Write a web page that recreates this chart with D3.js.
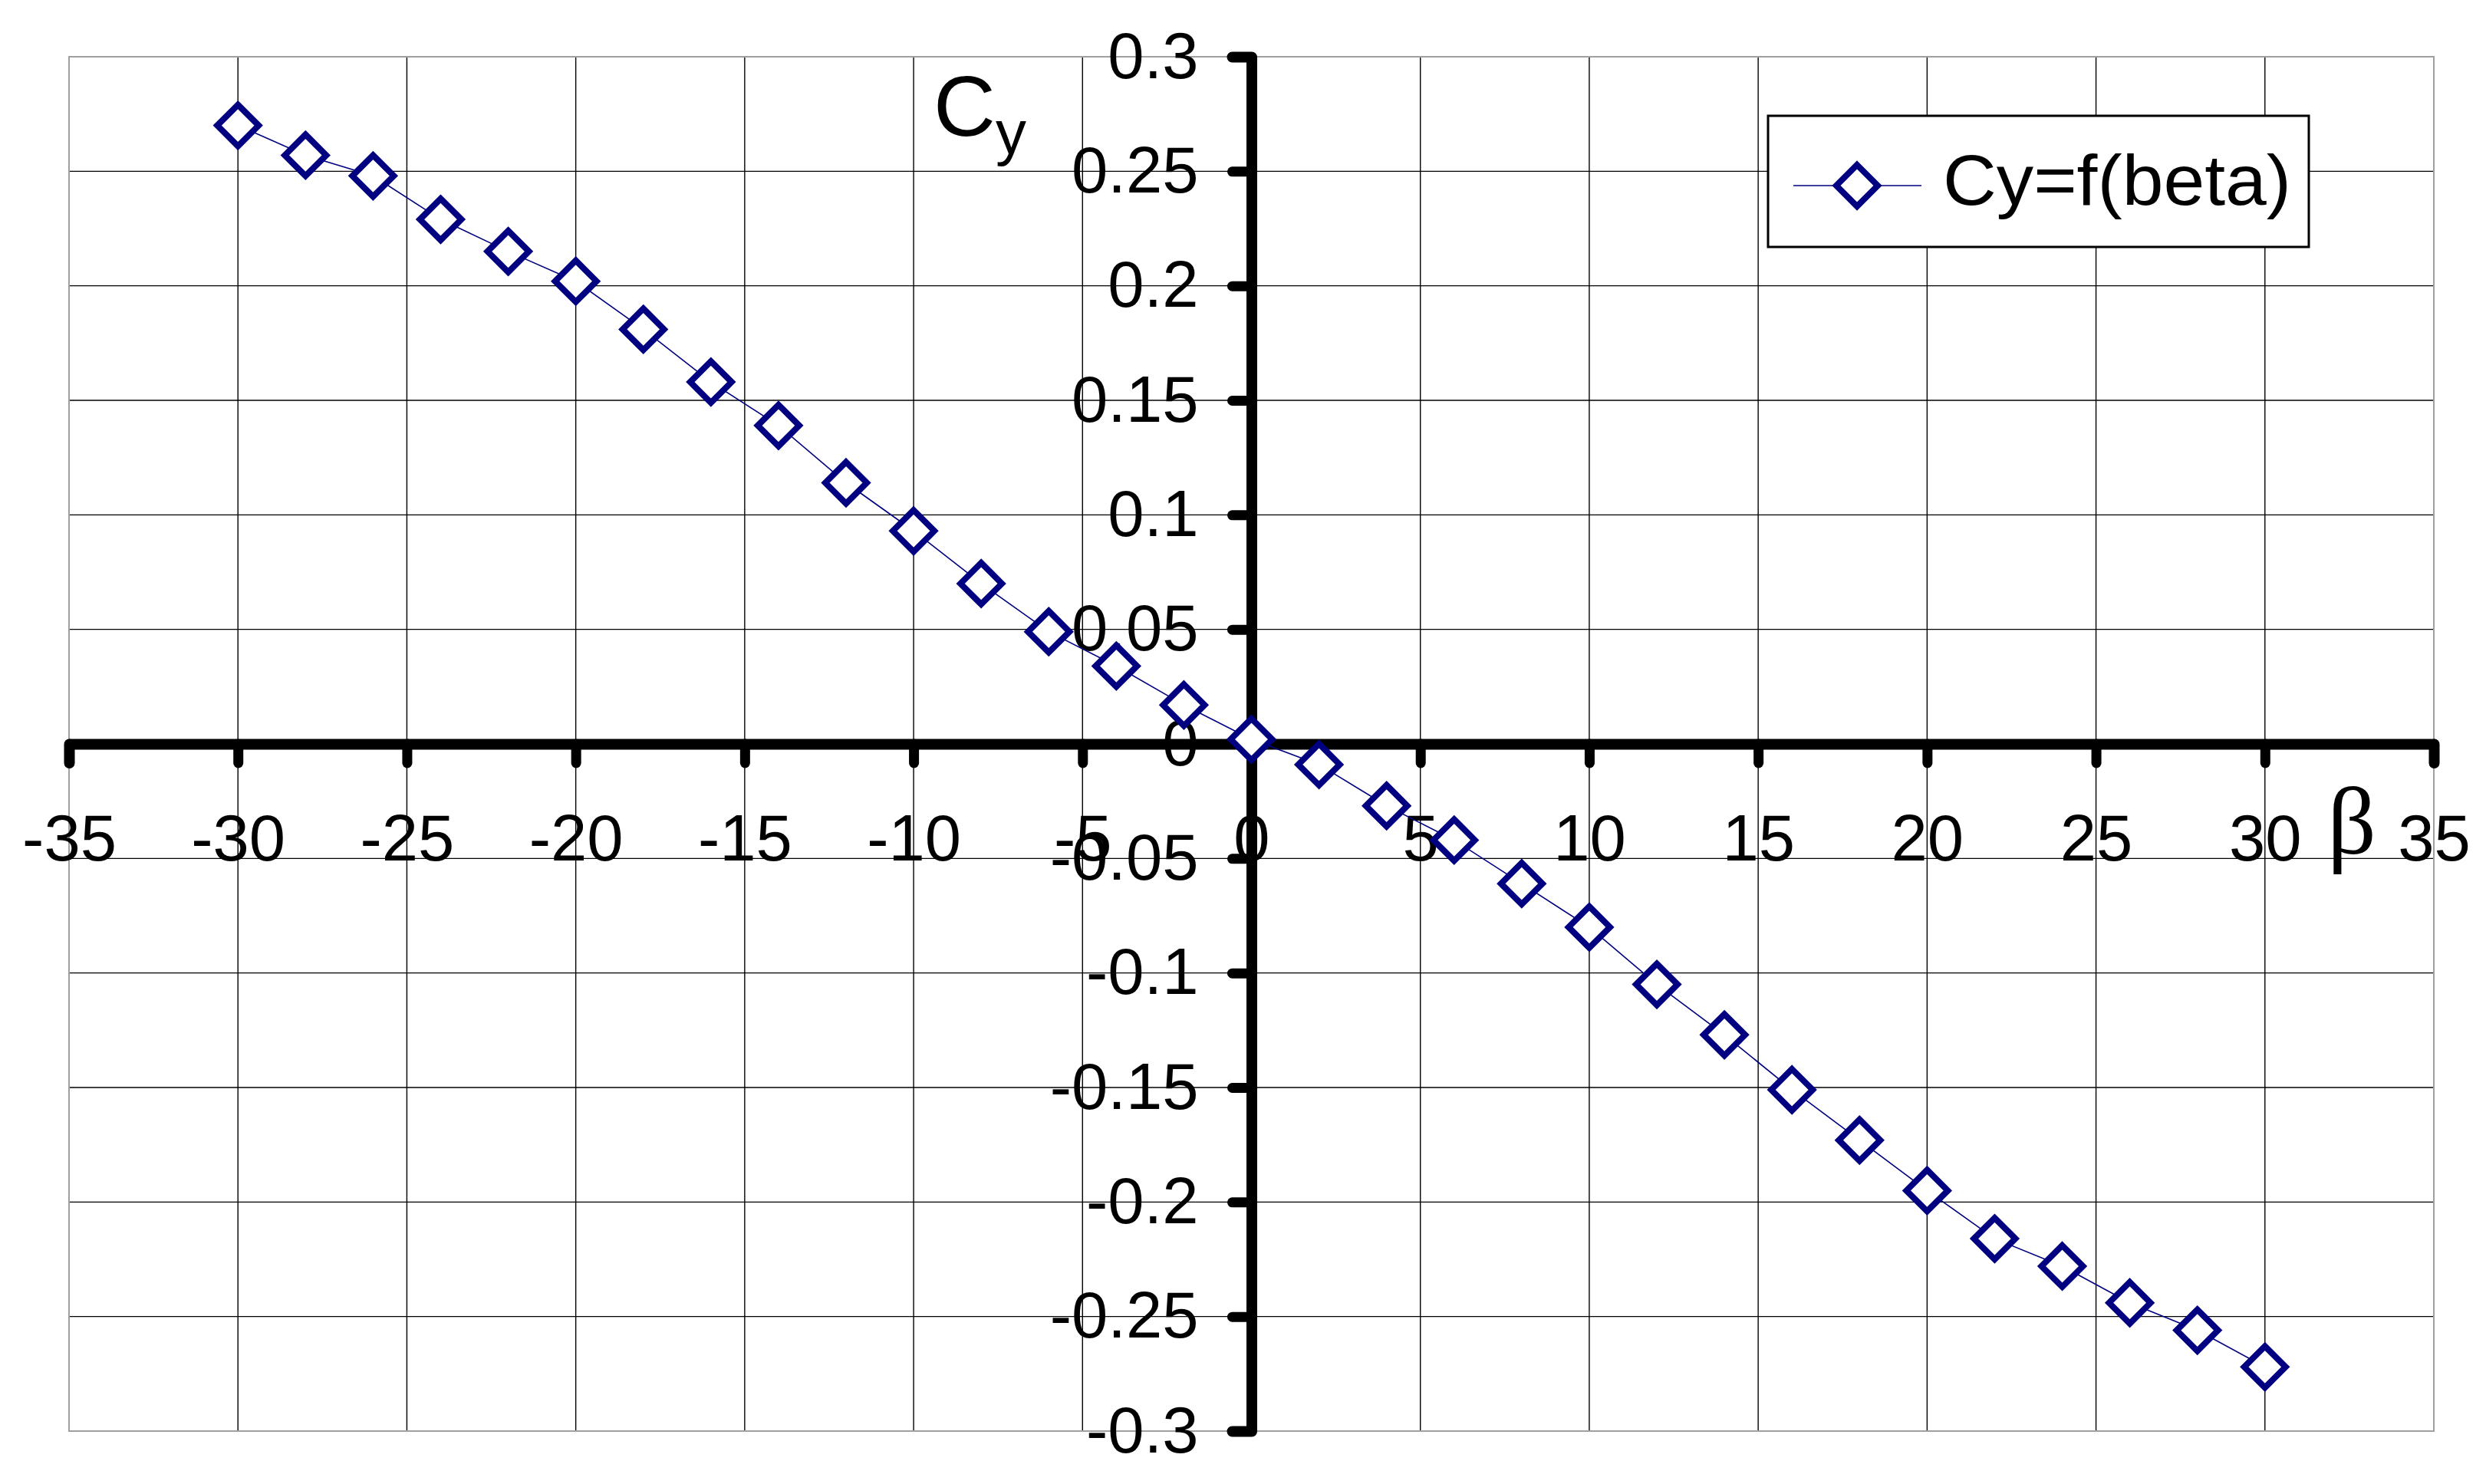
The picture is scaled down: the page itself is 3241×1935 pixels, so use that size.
<!DOCTYPE html>
<html>
<head>
<meta charset="utf-8">
<script src="https://cdn.jsdelivr.net/npm/d3@7"></script>
<style>
  body { margin: 0; background: #fff; }
</style>
</head>
<body>
<script>
// data
const betaValues = [-30, -28, -26, -24, -22, -20, -18, -16, -14, -12, -10, -8, -6, -4, -2,
  0, 2, 4, 6, 8, 10, 12, 14, 16, 18, 20, 22, 24, 26, 28, 30];
const cyValues = [0.270, 0.257, 0.248, 0.229, 0.215, 0.202, 0.181, 0.158, 0.139, 0.114, 0.093,
  0.070, 0.049, 0.034, 0.017, 0.002, -0.009, -0.027, -0.042, -0.061, -0.080, -0.105, -0.127,
  -0.151, -0.173, -0.195, -0.216, -0.228, -0.244, -0.256, -0.272];
const xTickValues = [-35, -30, -25, -20, -15, -10, -5, 0, 5, 10, 15, 20, 25, 30, 35];
const xTickLabels = ["-35", "-30", "-25", "-20", "-15", "-10", "-5", "0", "5", "10", "15", "20", "25", "30", "35"];
const yTickValues = [0.3, 0.25, 0.2, 0.15, 0.1, 0.05, 0, -0.05, -0.1, -0.15, -0.2, -0.25, -0.3];
const yTickLabels = ["0.3", "0.25", "0.2", "0.15", "0.1", "0.05", "0", "-0.05", "-0.1", "-0.15", "-0.2", "-0.25", "-0.3"];
const seriesName = "Cy=f(beta)";

const width = 3241;
const height = 1935;
const font = 'Liberation Sans, Arial, sans-serif';
const navy = '#000080';

const svg = d3.select('body').append('svg')
  .attr('width', width)
  .attr('height', height);

svg.append('rect').attr('width', width).attr('height', height).attr('fill', '#fff');

const x = d3.scaleLinear().domain([-35, 35]).range([90, 3173]);
const y = d3.scaleLinear().domain([-0.3, 0.3]).range([1866, 74]);

// grid
svg.append('g').selectAll('line')
  .data(xTickValues.slice(1, -1))
  .join('line')
  .attr('x1', d => x(d)).attr('x2', d => x(d))
  .attr('y1', y(0.3)).attr('y2', y(-0.3))
  .attr('stroke', '#000').attr('stroke-width', 1.4);

svg.append('g').selectAll('line')
  .data(yTickValues.slice(1, -1))
  .join('line')
  .attr('x1', x(-35)).attr('x2', x(35))
  .attr('y1', d => y(d)).attr('y2', d => y(d))
  .attr('stroke', '#000').attr('stroke-width', 1.4);

svg.append('rect')
  .attr('x', x(-35)).attr('y', y(0.3))
  .attr('width', x(35) - x(-35)).attr('height', y(-0.3) - y(0.3))
  .attr('fill', 'none').attr('stroke', '#a0a0a0').attr('stroke-width', 2);

// axes through the origin
const xAxis = svg.append('g')
  .attr('transform', `translate(0,${y(0)})`)
  .call(d3.axisBottom(x).tickValues(xTickValues).tickSize(25).tickSizeOuter(25).tickPadding(67)
    .tickFormat((d, i) => xTickLabels[i]));

const yAxis = svg.append('g')
  .attr('transform', `translate(${x(0)},0)`)
  .call(d3.axisLeft(y).tickValues(yTickValues).tickSize(25).tickSizeOuter(25).tickPadding(44)
    .tickFormat((d, i) => yTickLabels[i]));

[xAxis, yAxis].forEach(g => {
  g.attr('font-family', font).attr('font-size', 85);
  g.select('.domain')
    .attr('stroke', '#000').attr('stroke-width', 14)
    .attr('stroke-linejoin', 'round').attr('stroke-linecap', 'round');
  g.selectAll('.tick line')
    .attr('stroke', '#000').attr('stroke-width', 13).attr('stroke-linecap', 'round');
  g.selectAll('.tick text').attr('fill', '#000');
});

// axis titles
const cy = svg.append('text')
  .attr('x', 1217).attr('y', 177)
  .attr('font-family', font).attr('font-size', 112).attr('fill', '#000');
cy.append('tspan').text('C');
cy.append('tspan').attr('font-size', 80).attr('dy', 23).text('y');

svg.append('text')
  .attr('x', 3066).attr('y', 1113)
  .attr('text-anchor', 'middle')
  .attr('font-family', 'Liberation Serif, Times New Roman, serif')
  .attr('font-size', 125).attr('fill', '#000')
  .text('β');

// series
const diamond = r => `M0,${-r}L${r},0L0,${r}L${-r},0Z`;
const points = betaValues.map((b, i) => [b, cyValues[i]]);

svg.append('path')
  .datum(points)
  .attr('d', d3.line().x(d => x(d[0])).y(d => y(d[1])))
  .attr('fill', 'none').attr('stroke', navy).attr('stroke-width', 1.6);

svg.append('g').selectAll('path')
  .data(points)
  .join('path')
  .attr('transform', d => `translate(${x(d[0])},${y(d[1])})`)
  .attr('d', diamond(27))
  .attr('fill', '#fff').attr('stroke', navy).attr('stroke-width', 8);

// legend
const legend = svg.append('g').attr('transform', 'translate(2305,151)');
legend.append('rect')
  .attr('width', 705).attr('height', 171)
  .attr('fill', '#fff').attr('stroke', '#000').attr('stroke-width', 3);
legend.append('line')
  .attr('x1', 33).attr('x2', 200).attr('y1', 91).attr('y2', 91)
  .attr('stroke', navy).attr('stroke-width', 1.6);
legend.append('path')
  .attr('transform', 'translate(116,91)')
  .attr('d', diamond(27))
  .attr('fill', '#fff').attr('stroke', navy).attr('stroke-width', 8);
legend.append('text')
  .attr('x', 228).attr('y', 116)
  .attr('font-family', font).attr('font-size', 92).attr('fill', '#000')
  .attr('textLength', 454).attr('lengthAdjust', 'spacingAndGlyphs')
  .text(seriesName);
</script>
</body>
</html>
